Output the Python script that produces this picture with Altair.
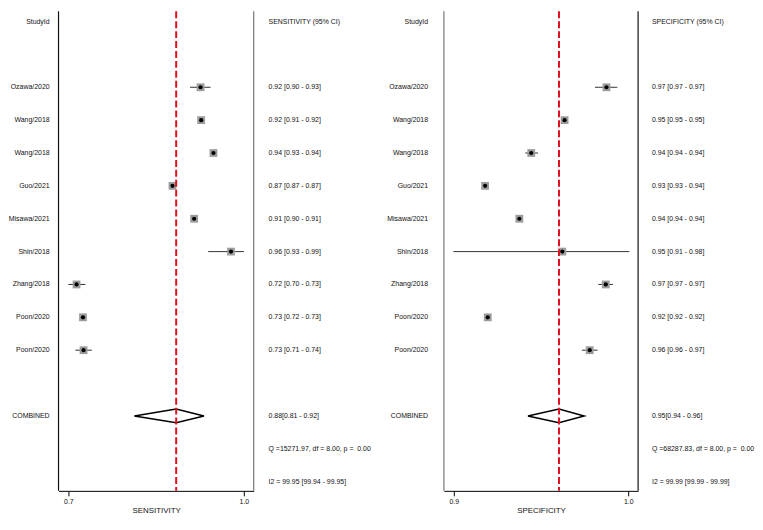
import altair as alt
import pandas as pd

# ---------------- data ----------------
studies = ["Ozawa/2020", "Wang/2018", "Wang/2018", "Guo/2021", "Misawa/2021",
           "Shin/2018", "Zhang/2018", "Poon/2020", "Poon/2020"]

sens_est = [0.926, 0.927, 0.948, 0.878, 0.915, 0.978, 0.714, 0.725, 0.726]
sens_lo = [0.908, 0.924, 0.944, 0.875, 0.911, 0.939, 0.700, 0.722, 0.712]
sens_hi = [0.943, 0.930, 0.952, 0.881, 0.918, 1.000, 0.729, 0.728, 0.740]
sens_txt = ["0.92 [0.90 - 0.93]", "0.92 [0.91 - 0.92]", "0.94 [0.93 - 0.94]",
            "0.87 [0.87 - 0.87]", "0.91 [0.90 - 0.91]", "0.96 [0.93 - 0.99]",
            "0.72 [0.70 - 0.73]", "0.73 [0.72 - 0.73]", "0.73 [0.71 - 0.74]"]
sens_comb = [0.8128, 0.8843, 0.9318]  # lo, est, hi
sens_summary = ["0.88[0.81 - 0.92]", "Q =15271.97, df = 8.00, p = \u00a00.00",
                "I2 = 99.95 [99.94 - 99.95]"]

spec_est = [0.9875, 0.9635, 0.9444, 0.9180, 0.9376, 0.9622, 0.9871, 0.9195, 0.9779]
spec_lo = [0.9809, 0.9628, 0.9410, 0.9173, 0.9369, 0.8998, 0.9828, 0.9188, 0.9734]
spec_hi = [0.9937, 0.9642, 0.9483, 0.9187, 0.9383, 1.0006, 0.9912, 0.9202, 0.9824]
spec_txt = ["0.97 [0.97 - 0.97]", "0.95 [0.95 - 0.95]", "0.94 [0.94 - 0.94]",
            "0.93 [0.93 - 0.94]", "0.94 [0.94 - 0.94]", "0.95 [0.91 - 0.98]",
            "0.97 [0.97 - 0.97]", "0.92 [0.92 - 0.92]", "0.96 [0.96 - 0.97]"]
spec_comb = [0.9425, 0.9603, 0.9747]
spec_summary = ["0.95[0.94 - 0.96]", "Q =68287.83, df = 8.00, p = \u00a00.00",
                "I2 = 99.99 [99.99 - 99.99]"]

sens_ticks = [0.7, 1.0]
spec_ticks = [0.9, 1.0]
sens_domain = [0.6832, 1.0168]
spec_domain = [0.8944, 1.0056]

# ---------------- layout ----------------
H = 484
FONT = "Liberation Sans"
FS = 7
TXT = "#111111"
study_rows = [i + 2 for i in range(len(studies))]
COMB_ROW = 12
ydom = [-0.31, 14.28]
Y = alt.Y("row:Q", scale=alt.Scale(domain=ydom, reverse=True, nice=False, zero=False), axis=None)


def forest(est, lo, hi, comb, dom, ticks, title, width, lcol, rcol):
    df = pd.DataFrame({"row": study_rows, "est": est, "lo": lo, "hi": hi})
    sc = alt.Scale(domain=dom, nice=False, zero=False)
    ax = alt.Axis(values=ticks, format=".1f", title=title, grid=False, labelFlush=False,
                  tickSize=5, tickColor="black", domainColor="black", domainWidth=1,
                  labelFontSize=7, labelColor=TXT, labelPadding=2, labelFont=FONT,
                  titleFontSize=8, titleFontWeight="normal", titleColor=TXT,
                  titlePadding=2, titleFont=FONT)

    def X(f):
        return alt.X(f"{f}:Q", scale=sc, axis=ax)

    ci = alt.Chart(df).mark_rule(color="#333333", strokeWidth=1).encode(x=X("lo"), x2="hi:Q", y=Y)
    sq = alt.Chart(df).mark_square(size=62, color="#9c9c9c", opacity=1).encode(x=X("est"), y=Y)
    dot = alt.Chart(df).mark_circle(size=18, color="black", opacity=1).encode(x=X("est"), y=Y)

    dia = pd.DataFrame({
        "x": [comb[0], comb[1], comb[2], comb[1], comb[0]],
        "row": [COMB_ROW, COMB_ROW - 0.21, COMB_ROW, COMB_ROW + 0.21, COMB_ROW],
        "o": [0, 1, 2, 3, 4],
    })
    diamond = alt.Chart(dia).mark_line(color="black", strokeWidth=1.5).encode(
        x=X("x"), y=Y, order="o:Q")

    red = alt.Chart(pd.DataFrame({"est": [comb[1]]})).mark_rule(
        color="#e0101f", strokeDash=[7, 3], strokeWidth=2).encode(x=X("est"))

    one = pd.DataFrame({"a": [0]})
    bl = alt.Chart(one).mark_rule(color=lcol, strokeWidth=1.2).encode(x=alt.value(0))
    br = alt.Chart(one).mark_rule(color=rcol, strokeWidth=1.2).encode(x=alt.value(width))

    return alt.layer(ci, sq, dot, diamond, red, bl, br).properties(width=width, height=H)


def text_layer(labels, rows, xpos, align):
    df = pd.DataFrame({"t": labels, "row": rows})
    return alt.Chart(df).mark_text(align=align, baseline="middle", fontSize=FS,
                                   font=FONT, color=TXT).encode(
        x=alt.value(xpos), y=Y, text="t:N")


label_texts = ["StudyId"] + studies + ["COMBINED"]
label_rows = [0] + study_rows + [COMB_ROW]
stat_rows = [0] + study_rows + [COMB_ROW, COMB_ROW + 1, COMB_ROW + 2]

colA = text_layer(label_texts, label_rows, 39, "right").properties(width=47, height=H)

box1 = forest(sens_est, sens_lo, sens_hi, sens_comb, sens_domain, sens_ticks,
              "SENSITIVITY", 197, "#111111", "#777777")

colB = alt.layer(
    text_layer(["SENSITIVITY (95% CI)"] + sens_txt + sens_summary, stat_rows, 14, "left"),
    text_layer(label_texts, label_rows, 175, "right"),
).properties(width=190, height=H)

box2 = forest(spec_est, spec_lo, spec_hi, spec_comb, spec_domain, spec_ticks,
              "SPECIFICITY", 196, "#777777", "#111111")

colC = text_layer(["SPECIFICITY (95% CI)"] + spec_txt + spec_summary, stat_rows, 13, "left"
                  ).properties(width=117, height=H)

chart = alt.hconcat(colA, box1, colB, box2, colC, spacing=0).properties(
    padding=0, background="white"
).configure_view(stroke=None)

chart.save("out.html", embed_options={"renderer": "svg", "actions": False})
